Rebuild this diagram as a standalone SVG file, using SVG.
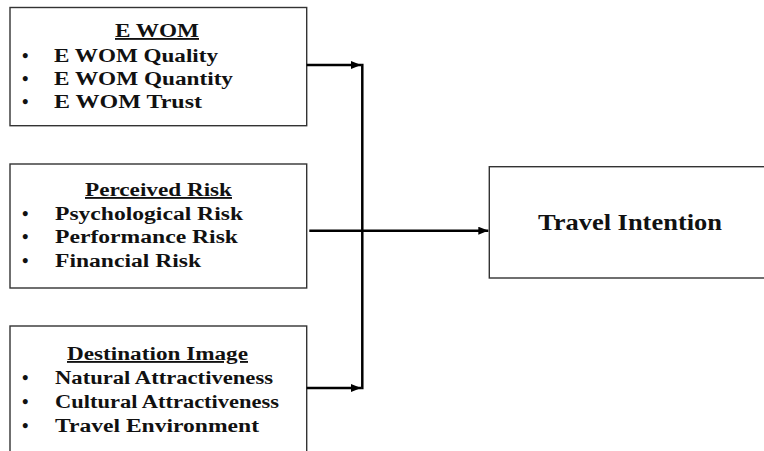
<svg xmlns="http://www.w3.org/2000/svg" width="764" height="451" viewBox="0 0 764 451">
  <style>
    .box { fill: #ffffff; stroke: #333333; stroke-width: 1.4; }
    .txt { font-family: "Liberation Serif", "Times New Roman", serif; font-weight: bold; font-size: 18.5px; fill: #111111; }
    .ttl { text-decoration: underline; }
    .big { font-size: 22.5px; }
    .wire { fill: none; stroke: #000000; stroke-width: 2.5; }
  </style>
  <defs>
    <marker id="arrow" viewBox="0 0 10 8" refX="10" refY="4" markerWidth="10" markerHeight="8" markerUnits="userSpaceOnUse" orient="auto">
      <path d="M0,0 L10,4 L0,8 Z" fill="#000000"/>
    </marker>
  </defs>
  <rect width="764" height="451" fill="#ffffff"/>

  <g id="ewom">
    <rect class="box" x="10" y="7.5" width="296.7" height="118.2"/>
    <text class="txt ttl" x="115" y="37" textLength="84" lengthAdjust="spacingAndGlyphs">E WOM</text>
    <text class="txt" x="22" y="62">•</text>
    <text class="txt" x="54" y="62" textLength="164" lengthAdjust="spacingAndGlyphs">E WOM Quality</text>
    <text class="txt" x="22" y="85">•</text>
    <text class="txt" x="54" y="85" textLength="179" lengthAdjust="spacingAndGlyphs">E WOM Quantity</text>
    <text class="txt" x="22" y="108">•</text>
    <text class="txt" x="54" y="108" textLength="148" lengthAdjust="spacingAndGlyphs">E WOM Trust</text>
  </g>

  <g id="perceived-risk">
    <rect class="box" x="10" y="164" width="296.7" height="124"/>
    <text class="txt ttl" x="85" y="196" textLength="147" lengthAdjust="spacingAndGlyphs">Perceived Risk</text>
    <text class="txt" x="22" y="220">•</text>
    <text class="txt" x="55" y="220" textLength="188" lengthAdjust="spacingAndGlyphs">Psychological Risk</text>
    <text class="txt" x="22" y="243">•</text>
    <text class="txt" x="55" y="243" textLength="183" lengthAdjust="spacingAndGlyphs">Performance Risk</text>
    <text class="txt" x="22" y="267">•</text>
    <text class="txt" x="55" y="267" textLength="146" lengthAdjust="spacingAndGlyphs">Financial Risk</text>
  </g>

  <g id="destination-image">
    <rect class="box" x="10" y="326" width="296.7" height="140"/>
    <text class="txt ttl" x="67" y="360" textLength="181" lengthAdjust="spacingAndGlyphs">Destination Image</text>
    <text class="txt" x="22" y="384">•</text>
    <text class="txt" x="55" y="384" textLength="218" lengthAdjust="spacingAndGlyphs">Natural Attractiveness</text>
    <text class="txt" x="22" y="408">•</text>
    <text class="txt" x="55" y="408" textLength="224" lengthAdjust="spacingAndGlyphs">Cultural Attractiveness</text>
    <text class="txt" x="22" y="432">•</text>
    <text class="txt" x="55" y="432" textLength="204" lengthAdjust="spacingAndGlyphs">Travel Environment</text>
  </g>

  <g id="travel-intention">
    <rect class="box" x="489.3" y="166.7" width="290" height="111.3"/>
    <text class="txt big" x="538" y="230" textLength="184" lengthAdjust="spacingAndGlyphs">Travel Intention</text>
  </g>

  <g id="connectors">
    <line class="wire" x1="362.3" y1="63.8" x2="362.3" y2="389.2"/>
    <line class="wire" x1="306.7" y1="65" x2="361" y2="65" marker-end="url(#arrow)"/>
    <line class="wire" x1="306.7" y1="388" x2="361" y2="388" marker-end="url(#arrow)"/>
    <line class="wire" x1="309.3" y1="230.7" x2="488.3" y2="230.7" marker-end="url(#arrow)"/>
  </g>
</svg>
